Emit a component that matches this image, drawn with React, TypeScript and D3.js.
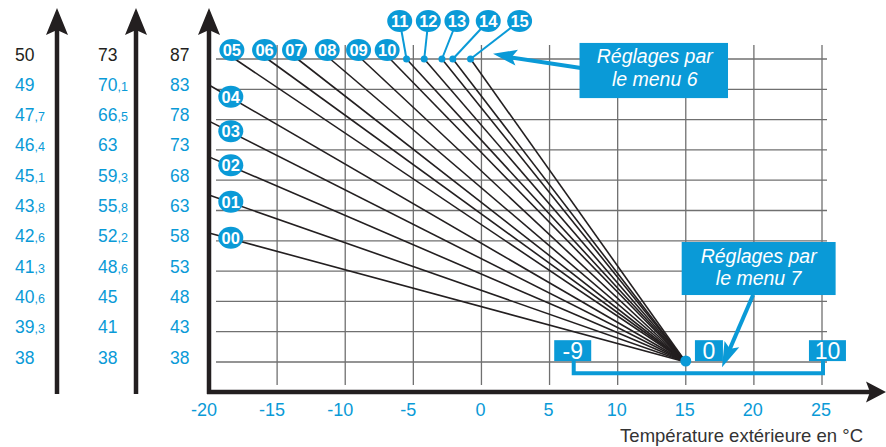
import React, { useEffect, useRef } from 'react';
import * as d3 from 'd3';

// temperature ticks along the bottom
const xTicks = [-20, -15, -10, -5, 0, 5, 10, 15, 20, 25];

// the three left scales, top row first
const scaleA = ['50', '49', '47,7', '46,4', '45,1', '43,8', '42,6', '41,3', '40,6', '39,3', '38'];
const scaleB = ['73', '70,1', '66,5', '63', '59,3', '55,8', '52,2', '48,6', '45', '41', '38'];
const scaleC = ['87', '83', '78', '73', '68', '63', '58', '53', '48', '43', '38'];

// curves starting on the left edge (-20 °C), start given as grid row
const lowCurves = ['00', '01', '02', '03', '04'];
const lowStartRows = [4.26, 5.51, 6.77, 7.95, 9.14];

// curves starting on the top row, start given as temperature
const highCurves = ['05', '06', '07', '08', '09', '10', '11', '12', '13', '14', '15'];
const highStartTemps = [-18.1, -15.7, -13.5, -11.1, -8.8, -6.7, -5.5, -4.2, -2.9, -2.1, -0.8];
// 11..15 have their badge lifted above the grid
const raisedBadgeTemps = [-6.0, -3.9, -1.8, 0.5, 2.8];

// all curves meet here
const pivot = { temp: 15, row: 0 };

// menu 7 offset bracket
const offsetLabels = ['-9', '0', '10'];
const offsetTemps = [6.7, 16.7, 25.4];

const BLUE = '#0a9ad7';
const DARK = '#231f20';
const GRID = '#707070';
const FONT = '"Liberation Sans", Arial, sans-serif';

const W = 886;
const H = 447;

const App: React.FC = () => {
  const svgRef = useRef<SVGSVGElement>(null);

  useEffect(() => {
    if (!svgRef.current) return;
    const svg = d3.select(svgRef.current);
    svg.selectAll('*').remove();

    const x = d3.scaleLinear().domain([-20, 25]).range([209, 822]);
    const y = d3.scaleLinear().domain([0, 10]).range([362, 59]);
    const rows = d3.range(0, 11);

    const arrowHead = (x1: number, y1: number, x2: number, y2: number, len: number, half: number, notch: number) => {
      const dx = x2 - x1;
      const dy = y2 - y1;
      const d = Math.hypot(dx, dy);
      const ux = dx / d;
      const uy = dy / d;
      const nx = -uy;
      const ny = ux;
      const p = d3.path();
      p.moveTo(x2, y2);
      p.lineTo(x2 - ux * len + nx * half, y2 - uy * len + ny * half);
      p.lineTo(x2 - ux * (len - notch), y2 - uy * (len - notch));
      p.lineTo(x2 - ux * len - nx * half, y2 - uy * len - ny * half);
      p.closePath();
      return p.toString();
    };

    // grid
    const grid = svg.append('g').attr('stroke', GRID).attr('stroke-width', 1.3);
    grid
      .selectAll('line.h')
      .data(rows)
      .enter()
      .append('line')
      .attr('x1', x(-20) + 7)
      .attr('x2', x(25) + 5)
      .attr('y1', (d) => y(d))
      .attr('y2', (d) => y(d));
    grid
      .selectAll('line.v')
      .data(xTicks.slice(1))
      .enter()
      .append('line')
      .attr('x1', (d) => x(d))
      .attr('x2', (d) => x(d))
      .attr('y1', y(10) - 14)
      .attr('y2', y(0) + 23);

    // left scales
    const cols = [
      { vals: scaleA, left: 15 },
      { vals: scaleB, left: 98 },
      { vals: scaleC, left: 170 },
    ];
    cols.forEach((c) => {
      c.vals.forEach((v, i) => {
        const [a, b] = v.split(',');
        const t = svg
          .append('text')
          .attr('x', c.left)
          .attr('y', y(10 - i) + 1.5)
          .attr('font-family', FONT)
          .attr('font-size', 17.5)
          .attr('fill', i === 0 ? DARK : BLUE);
        t.append('tspan').text(a);
        if (b !== undefined) t.append('tspan').attr('font-size', 12.5).text(',' + b);
      });
    });

    // left auxiliary axes + main y axis
    [57, 136, x(-20)].forEach((ax) => {
      svg
        .append('line')
        .attr('x1', ax)
        .attr('x2', ax)
        .attr('y1', y(0) + 32)
        .attr('y2', 30)
        .attr('stroke', DARK)
        .attr('stroke-width', 4.5);
      svg
        .append('path')
        .attr('d', arrowHead(ax, 100, ax, 8, 27, 11, 5))
        .attr('fill', DARK);
    });

    // x axis
    const axisY = y(0) + 30;
    svg
      .append('line')
      .attr('x1', x(-20) - 2)
      .attr('x2', 872)
      .attr('y1', axisY)
      .attr('y2', axisY)
      .attr('stroke', DARK)
      .attr('stroke-width', 4.5);
    svg.append('path').attr('d', arrowHead(800, axisY, 886, axisY, 20, 10.5, 4)).attr('fill', DARK);

    svg
      .selectAll('text.xt')
      .data(xTicks)
      .enter()
      .append('text')
      .attr('x', (d) => x(d) + (d < 0 ? -5 : -1))
      .attr('y', 416)
      .attr('text-anchor', 'middle')
      .attr('font-family', FONT)
      .attr('font-size', 18)
      .attr('fill', BLUE)
      .text((d) => d);

    svg
      .append('text')
      .attr('x', 863)
      .attr('y', 442)
      .attr('text-anchor', 'end')
      .attr('font-family', FONT)
      .attr('font-size', 18.5)
      .attr('fill', '#333')
      .text('Température extérieure en °C');

    // curves
    const curves = [
      ...lowCurves.map((id, i) => ({ id, temp: -20, row: lowStartRows[i] })),
      ...highCurves.map((id, i) => ({ id, temp: highStartTemps[i], row: 10 })),
    ];
    const line = d3
      .line<[number, number]>()
      .x((d) => x(d[0]))
      .y((d) => y(d[1]));
    svg
      .append('g')
      .selectAll('path')
      .data(curves)
      .enter()
      .append('path')
      .attr('d', (d) =>
        line([
          [d.temp, d.row],
          [pivot.temp, pivot.row],
        ])
      )
      .attr('fill', 'none')
      .attr('stroke', DARK)
      .attr('stroke-width', 1.6);

    // badges
    const badge = (cx: number, cy: number, label: string) => {
      svg.append('ellipse').attr('cx', cx).attr('cy', cy).attr('rx', 12.5).attr('ry', 11).attr('fill', BLUE);
      svg
        .append('text')
        .attr('x', cx)
        .attr('y', cy + 6)
        .attr('text-anchor', 'middle')
        .attr('font-family', FONT)
        .attr('font-weight', 'bold')
        .attr('font-size', 16.5)
        .attr('fill', '#fff')
        .text(label);
    };

    lowCurves.forEach((id, i) => {
      const t = -18.4;
      const r0 = lowStartRows[i];
      const r = r0 + ((t + 20) * (pivot.row - r0)) / (pivot.temp + 20);
      badge(x(t), y(r) - 1, id);
    });

    highCurves.forEach((id, i) => {
      const sx = x(highStartTemps[i]);
      if (i < 6) {
        badge(sx - 3, y(10) - 9, id);
      } else {
        const bx = x(raisedBadgeTemps[i - 6]);
        const by = y(10) - 38;
        svg
          .append('line')
          .attr('x1', bx)
          .attr('y1', by)
          .attr('x2', sx)
          .attr('y2', y(10))
          .attr('stroke', BLUE)
          .attr('stroke-width', 2);
        svg.append('circle').attr('cx', sx).attr('cy', y(10)).attr('r', 3.5).attr('fill', BLUE);
        badge(bx, by, id);
      }
    });

    svg.append('circle').attr('cx', x(pivot.temp)).attr('cy', y(pivot.row) - 1).attr('r', 5.5).attr('fill', BLUE);

    // callout: menu 6
    const c6 = { t0: 7.2, t1: 18.1, r0: 10.53, r1: 8.71 };
    const a6 = { x1: x(7.3), y1: y(9.7), x2: x(0.85), y2: y(10.17) };
    svg
      .append('line')
      .attr('x1', a6.x1)
      .attr('y1', a6.y1)
      .attr('x2', a6.x2 + 14)
      .attr('y2', a6.y2 + 3)
      .attr('stroke', BLUE)
      .attr('stroke-width', 4);
    svg.append('path').attr('d', arrowHead(a6.x1, a6.y1, a6.x2, a6.y2, 24, 8, 5)).attr('fill', BLUE);
    svg
      .append('rect')
      .attr('x', x(c6.t0))
      .attr('y', y(c6.r0))
      .attr('width', x(c6.t1) - x(c6.t0))
      .attr('height', y(c6.r1) - y(c6.r0))
      .attr('fill', BLUE);
    const cx6 = (x(c6.t0) + x(c6.t1)) / 2;
    [['Réglages par', 63], ['le menu 6', 86]].forEach(([s, by]) => {
      svg
        .append('text')
        .attr('x', cx6 + 1)
        .attr('y', by as number)
        .attr('text-anchor', 'middle')
        .attr('font-family', FONT)
        .attr('font-style', 'italic')
        .attr('font-size', 19.5)
        .attr('fill', '#fff')
        .text(s as string);
    });

    // callout: menu 7
    const c7 = { t0: 14.7, t1: 26.0, r0: 3.96, r1: 2.21 };
    const a7 = { x1: x(19.94), y1: y(2.21), x2: x(17.66), y2: y(-0.17) };
    svg
      .append('line')
      .attr('x1', a7.x1)
      .attr('y1', a7.y1)
      .attr('x2', a7.x2 + 6)
      .attr('y2', a7.y2 - 14)
      .attr('stroke', BLUE)
      .attr('stroke-width', 4);
    svg.append('path').attr('d', arrowHead(a7.x1, a7.y1, a7.x2, a7.y2, 25, 8, 5)).attr('fill', BLUE);
    svg
      .append('rect')
      .attr('x', x(c7.t0))
      .attr('y', y(c7.r0))
      .attr('width', x(c7.t1) - x(c7.t0))
      .attr('height', y(c7.r1) - y(c7.r0))
      .attr('fill', BLUE);
    const cx7 = (x(c7.t0) + x(c7.t1)) / 2;
    [['Réglages par', 263], ['le menu 7', 285]].forEach(([s, by]) => {
      svg
        .append('text')
        .attr('x', cx7)
        .attr('y', by as number)
        .attr('text-anchor', 'middle')
        .attr('font-family', FONT)
        .attr('font-style', 'italic')
        .attr('font-size', 19.5)
        .attr('fill', '#fff')
        .text(s as string);
    });

    // offset bracket with -9 / 0 / 10
    const bracketY = y(-0.37);
    const boxTop = y(0.72);
    const boxBottom = y(0.03);
    svg
      .append('path')
      .attr(
        'd',
        `M${x(offsetTemps[0]) + 1},${boxBottom} V${bracketY} H${x(25) + 1} V${boxBottom}`
      )
      .attr('fill', 'none')
      .attr('stroke', BLUE)
      .attr('stroke-width', 4);
    offsetLabels.forEach((lab, i) => {
      const cx = x(offsetTemps[i]);
      const w = lab.length === 1 ? 28 : 37;
      svg
        .append('rect')
        .attr('x', cx - w / 2)
        .attr('y', boxTop)
        .attr('width', w)
        .attr('height', boxBottom - boxTop)
        .attr('fill', BLUE);
      svg
        .append('text')
        .attr('x', cx)
        .attr('y', boxBottom - 2)
        .attr('text-anchor', 'middle')
        .attr('font-family', FONT)
        .attr('font-size', 23)
        .attr('fill', '#fff')
        .text(lab);
    });
  }, []);

  return (
    <svg
      ref={svgRef}
      width={W}
      height={H}
      style={{ position: 'absolute', left: 0, top: 0, background: '#fff' }}
    ></svg>
  );
};

export default App;
